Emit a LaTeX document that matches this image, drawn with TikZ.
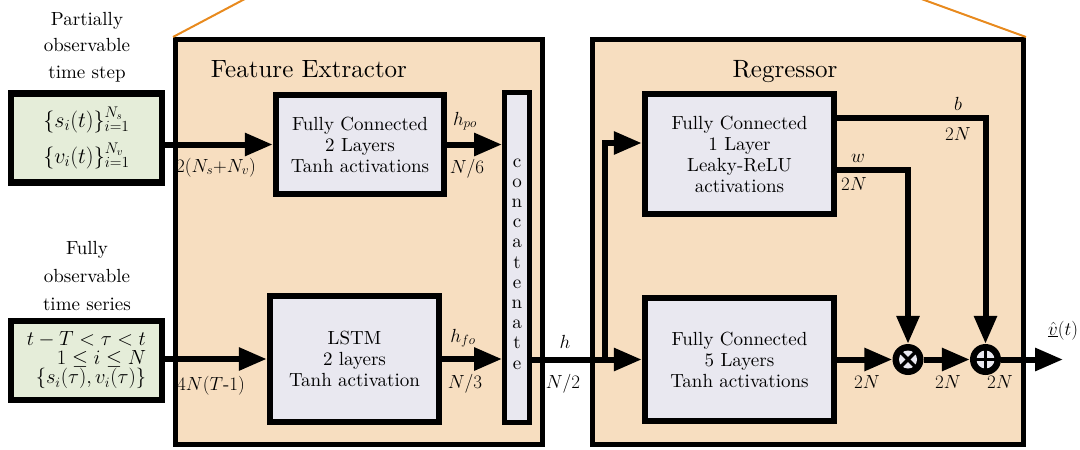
\RequirePackage{fix-cm}
\documentclass[tikz,border=0pt]{standalone}
\usepackage{fontspec}
\setmainfont{lmroman10-regular.otf}
\usetikzlibrary{arrows.meta,calc}
\definecolor{peach}{RGB}{247,222,192}
\definecolor{lav}{RGB}{233,232,240}
\definecolor{grn}{RGB}{229,237,217}
\definecolor{orng}{RGB}{232,138,30}
\begin{document}
\begin{tikzpicture}[x=1pt,y=-1pt,
  txt/.style={font=\fontsize{19}{21}\selectfont},
  ttl/.style={font=\fontsize{25}{28}\selectfont},
  outerbox/.style={draw=black,line width=5pt,fill=peach,inner sep=0pt},
  blk/.style={draw=black,line width=6.5pt,fill=lav,align=center,inner sep=0pt,txt},
  inbox/.style={draw=black,line width=6.5pt,fill=grn,inner sep=0pt,txt},
  arr/.style={line width=6pt,-{Triangle[length=28pt,width=22pt]}},
  lnk/.style={line width=6pt},
  lbl/.style={txt,inner sep=0pt},
  opc/.style={circle,fill=black,minimum size=31pt,inner sep=0pt},
  ]
\useasboundingbox (0,0) rectangle (1080,450);
\clip (0,0) rectangle (1080,450);

% outer boxes
\node[outerbox,minimum width=367pt,minimum height=405pt] (fe) at (359,242) {};
\node[outerbox,minimum width=431pt,minimum height=405pt] (reg) at (808,242) {};
\draw[orng,line width=2pt] (fe.north west) -- ++(136,-72);
\draw[orng,line width=2pt] (reg.north east) -- ++(-198,-72);

\node[ttl,anchor=base] (fetitle) at (309,77) {Feature Extractor};
\node[ttl,anchor=base] (regtitle) at (785,77) {Regressor};

% left labels
\node[lbl,align=center,font=\fontsize{19}{26.5}\selectfont] (lab1) at (87,47) {Partially\\observable\\time step};
\node[lbl,align=center,font=\fontsize{19}{28}\selectfont] (lab2) at (87,276) {Fully\\observable\\time series};

% input boxes
\node[inbox,minimum width=151pt,minimum height=89pt,align=center,font=\fontsize{22}{36}\selectfont] (in1) at (86.5,138)
  {$\{s_i(t)\}_{i=1}^{N_s}$\\$\{v_i(t)\}_{i=1}^{N_v}$};
\node[inbox,minimum width=151pt,minimum height=79pt,align=right,font=\fontsize{20.5}{19}\selectfont] (in2) at (86.5,360.5)
  {$t-T<\tau<t$\\$1\le i\le N$\\$\{s_i(\tau),v_i(\tau)\}$\hspace{8pt}};

% feature extractor blocks
\node[blk,minimum width=168pt,minimum height=99pt] (fc2) at (360,144.5) {Fully Connected\\2 Layers\\Tanh activations};
\node[blk,minimum width=169pt,minimum height=126pt] (lstm) at (354.5,359) {LSTM\\2 layers\\Tanh activation};
\node[draw=black,line width=5pt,fill=lav,minimum width=25pt,minimum height=330pt,inner sep=0pt] (cat) at (517,257.5) {};
\node[lbl,align=center,font=\fontsize{19}{20.2}\selectfont] (cattxt) at (517,264) {c\\o\\n\\c\\a\\t\\e\\n\\a\\t\\e};

% regressor blocks
\node[blk,minimum width=189pt,minimum height=120pt] (fc1) at (739.5,154) {Fully Connected\\1 Layer\\Leaky-ReLU\\activations};
\node[blk,minimum width=189pt,minimum height=123pt] (fc5) at (739.5,359.5) {Fully Connected\\5 Layers\\Tanh activations};

\node[opc] (times) at (908,359.5) {};
\node[opc] (plus) at (985.5,359.5) {};
\fill[lav] (times) circle (9pt);
\fill[lav] (plus) circle (9pt);
\draw[line width=3.5pt] ($(times)+(-7.5,-7.5)$) -- ($(times)+(7.5,7.5)$);
\draw[line width=3.5pt] ($(times)+(-7.5,7.5)$) -- ($(times)+(7.5,-7.5)$);
\draw[line width=3.5pt] ($(plus)+(-10,0)$) -- ($(plus)+(10,0)$);
\draw[line width=3.5pt] ($(plus)+(0,-10)$) -- ($(plus)+(0,10)$);

% connectors
\draw[arr] (in1.east |- fc2.west) -- (fc2.west);
\draw[arr] (fc2.east) -- (cat.west |- fc2.east);
\draw[arr] (in2.east |- lstm.west) -- (lstm.west);
\draw[arr] (lstm.east) -- (cat.west |- lstm.east);
\draw[arr] (cat.east |- fc5.west) -- (fc5.west);
\coordinate (br) at (605,359.5);
\draw[arr] (br) |- ([yshift=11pt]fc1.west);
\draw[arr] ([yshift=36pt]fc1.east) -| (plus.north);
\draw[arr] ([yshift=-16pt]fc1.east) -| (times.north);
\draw[arr] (fc5.east) -- (times.west);
\draw[arr] (times.east) -- (plus.west);
\coordinate (out) at (1063,359.5);
\draw[arr] (plus.east) -- (out);

% labels
\node[lbl,anchor=base west] (l1) at (176,172) {$2(N_s{+}N_v)$};
\node[lbl,anchor=base west] (l2) at (177,390) {$4N(T\mbox{-}1)$};
\node[lbl,anchor=base] (l3) at (465,125) {$h_{po}$};
\node[lbl,anchor=base] (l4) at (467,173) {$N/6$};
\node[lbl,anchor=base] (l5) at (463,342) {$h_{fo}$};
\node[lbl,anchor=base] (l6) at (465,388) {$N/3$};
\node[lbl,anchor=base] (l7) at (565,348) {$h$};
\node[lbl,anchor=base] (l8) at (563,388) {$N/2$};
\node[lbl,anchor=base] (l9) at (958,110) {$b$};
\node[lbl,anchor=base] (l10) at (958,140) {$2N$};
\node[lbl,anchor=base] (l11) at (858,162) {$w$};
\node[lbl,anchor=base] (l12) at (854,190) {$2N$};
\node[lbl,anchor=base] (l13) at (867,388) {$2N$};
\node[lbl,anchor=base] (l14) at (948,388) {$2N$};
\node[lbl,anchor=base] (l15) at (1000,388) {$2N$};
\node[lbl,anchor=base west] (l16) at (1048,335) {$\underline{\hat{v}}(t)$};
\end{tikzpicture}
\end{document}
